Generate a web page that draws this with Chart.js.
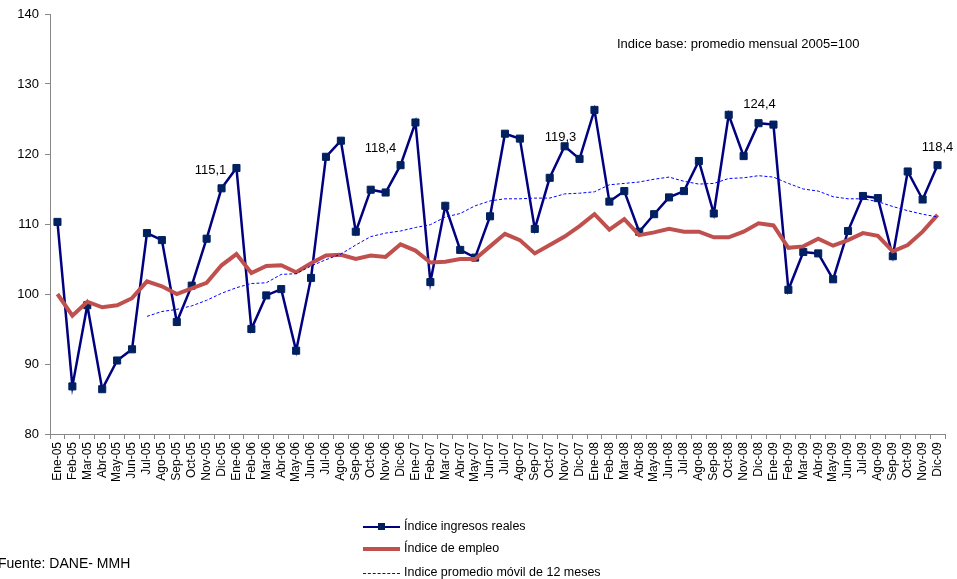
<!DOCTYPE html>
<html>
<head>
<meta charset="utf-8">
<script src="https://cdn.jsdelivr.net/npm/chart.js@4.4.1/dist/chart.umd.min.js"></script>
<style>
  body { margin: 0; background: #fff; font-family: "Liberation Sans", Arial, sans-serif; }
  #wrap { position: relative; width: 957px; height: 579px; overflow: hidden; }
  #myChart { position: absolute; left: 0; top: 0; }
  .note { position: absolute; left: 617px; top: 36px; font-size: 13px; color: #000; white-space: nowrap; }
  .fuente { position: absolute; left: -2px; top: 555px; font-size: 14px; color: #000; white-space: nowrap; }
  .leg { position: absolute; left: 363px; font-size: 12.5px; color: #000; white-space: nowrap; height: 16px; }
  .leg span.s { position: absolute; left: 0; top: 8px; width: 37px; }
  .leg span.t { position: absolute; left: 41px; top: 0; }
</style>
</head>
<body>
<div id="wrap">
  <canvas id="myChart" width="957" height="579"></canvas>
  <div class="note">Indice base: promedio mensual 2005=100</div>
  <div class="leg" style="top:519px">
    <span class="s" style="border-top:2.5px solid #000080;top:7px"></span>
    <span style="position:absolute;left:15px;top:4px;width:7px;height:7px;background:#002060"></span>
    <span class="t">Índice ingresos reales</span>
  </div>
  <div class="leg" style="top:541px">
    <span class="s" style="border-top:4px solid #c0504d;top:6px"></span>
    <span class="t">Índice de empleo</span>
  </div>
  <div class="leg" style="top:565px">
    <span class="s" style="border-top:1px dashed #0000ff;top:8px"></span>
    <span class="t">Indice promedio móvil de 12 meses</span>
  </div>
  <div class="fuente">Fuente: DANE- MMH</div>
</div>
<script>
var meses = ["Ene", "Feb", "Mar", "Abr", "May", "Jun", "Jul", "Ago", "Sep", "Oct", "Nov", "Dic"];
var anios = ["05", "06", "07", "08", "09"];
var labels = [];
anios.forEach(function (a) {
  meses.forEach(function (m) { labels.push(m + "-" + a); });
});

var ingresosReales = [
  110.3, 86.8, 98.4, 86.4, 90.5, 92.1, 108.7, 107.7, 96.0, 101.2, 107.9, 115.1,
  118.0, 95.0, 99.8, 100.7, 91.9, 102.3, 119.6, 121.9, 108.9, 114.9, 114.5, 118.4,
  124.5, 101.7, 112.6, 106.3, 105.2, 111.1, 122.9, 122.2, 109.3, 116.6, 121.1, 119.3,
  126.3, 113.2, 114.7, 108.9, 111.4, 113.8, 114.7, 119.0, 111.5, 125.6, 119.7, 124.4,
  124.2, 100.6, 106.0, 105.8, 102.1, 109.0, 114.0, 113.7, 105.4, 117.5, 113.5, 118.4
];

var empleo = [
  100.0, 96.9, 98.9, 98.1, 98.4, 99.4, 101.8, 101.1, 100.0, 100.8, 101.6, 104.1,
  105.7, 103.0, 104.0, 104.1, 103.1, 104.4, 105.5, 105.6, 105.0, 105.5, 105.3, 107.1,
  106.2, 104.5, 104.6, 105.0, 105.0, 106.8, 108.6, 107.7, 105.8, 107.0, 108.2, 109.7,
  111.4, 109.2, 110.7, 108.4, 108.8, 109.3, 108.9, 108.9, 108.1, 108.1, 108.9, 110.1,
  109.8, 106.6, 106.8, 107.9, 106.9, 107.7, 108.7, 108.3, 106.1, 107.0, 108.9, 111.3
];

var promedioMovil = [
  null, null, null, null, null, null, 96.8, 97.5, 97.8, 98.3, 99.1, 100.1,
  100.9, 101.5, 101.6, 102.8, 102.9, 104.0, 104.9, 105.7, 107.0, 108.2, 108.7, 109.0,
  109.5, 109.9, 111.0, 111.5, 112.6, 113.3, 113.6, 113.6, 113.7, 113.7, 114.3, 114.4,
  114.6, 115.6, 115.8, 116.0, 116.4, 116.7, 116.1, 115.7, 115.8, 116.5, 116.6, 116.9,
  116.7, 115.8, 115.0, 114.7, 113.9, 113.6, 113.6, 113.2, 112.5, 111.9, 111.4, 111.0
];

// meses con etiqueta de valor (diciembres) y desplazamiento del texto
var etiquetados = [11, 23, 35, 47, 59];
var desplaz = [[-11, -18], [-20, -17], [-19, -21], [1, -19], [0, -18]];

var etiquetas = {
  id: "etiquetas",
  afterDatasetsDraw: function (chart) {
    var ctx = chart.ctx;
    var meta = chart.getDatasetMeta(2);
    ctx.save();
    ctx.font = "13px 'Liberation Sans', Arial, sans-serif";
    ctx.fillStyle = "#000";
    ctx.textAlign = "center";
    ctx.textBaseline = "middle";
    etiquetados.forEach(function (i, k) {
      var p = meta.data[i];
      var txt = ingresosReales[i].toFixed(1).replace(".", ",");
      ctx.fillText(txt, p.x + desplaz[k][0], p.y + desplaz[k][1]);
    });
    ctx.restore();
  }
};

var ctx = document.getElementById("myChart");
var chart = new Chart(ctx, {
  type: "line",
  data: {
    labels: labels,
    datasets: [{
      label: "Indice promedio móvil de 12 meses",
      data: promedioMovil,
      borderColor: "#0000ff",
      borderWidth: 1,
      borderDash: [3, 2],
      pointRadius: 0,
      fill: false,
      tension: 0
    }, {
      label: "Índice de empleo",
      data: empleo,
      borderColor: "#c0504d",
      borderWidth: 4,
      pointRadius: 0,
      fill: false,
      tension: 0
    }, {
      label: "Índice ingresos reales",
      data: ingresosReales,
      borderColor: "#000080",
      borderWidth: 2.5,
      pointStyle: "rect",
      pointRadius: 5,
      pointBackgroundColor: "#002060",
      pointBorderColor: "#002060",
      pointBorderWidth: 1,
      fill: false,
      tension: 0
    }]
  },
  options: {
    responsive: false,
    animation: false,
    layout: { padding: { top: 14, right: 12, bottom: 85, left: 0 } },
    plugins: {
      legend: { display: false },
      tooltip: { enabled: false }
    },
    scales: {
      x: {
        offset: true,
        grid: {
          display: true,
          offset: true,
          drawOnChartArea: false,
          drawTicks: true,
          tickLength: 5,
          color: "#888"
        },
        border: { color: "#888", width: 1 },
        ticks: {
          autoSkip: false,
          maxRotation: 90,
          minRotation: 90,
          color: "#000",
          padding: 3,
          font: { family: "'Liberation Sans', Arial, sans-serif", size: 12 }
        },
        afterFit: function (scale) { scale.height = 60; }
      },
      y: {
        min: 80,
        max: 140,
        ticks: {
          stepSize: 10,
          color: "#000",
          padding: 6,
          font: { family: "'Liberation Sans', Arial, sans-serif", size: 13 }
        },
        grid: {
          display: true,
          drawOnChartArea: false,
          drawTicks: true,
          tickLength: 5,
          color: "#888"
        },
        border: { color: "#888", width: 1 },
        afterFit: function (scale) { scale.width = 50; }
      }
    }
  },
  plugins: [etiquetas]
});
</script>
</body>
</html>
